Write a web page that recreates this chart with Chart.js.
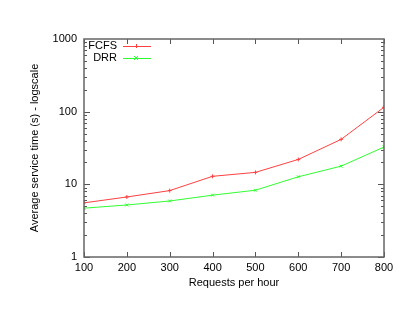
<!DOCTYPE html>
<html>
<head>
<meta charset="utf-8">
<script src="https://cdn.jsdelivr.net/npm/chart.js@4/dist/chart.umd.min.js"></script>
<style>
  html, body { margin: 0; padding: 0; background: #fff; }
  #wrap { width: 415px; height: 321px; }
</style>
</head>
<body>
<div id="wrap"><canvas id="chart"></canvas></div>
<script>
// data
const requests = [100, 200, 300, 400, 500, 600, 700, 800];
const fcfsTimes = [5.56, 6.7, 8.2, 12.9, 14.6, 22.0, 41.6, 115];
const drrTimes = [4.7, 5.2, 5.9, 7.1, 8.3, 12.7, 17.8, 32.6];
const seriesNames = ['FCFS', 'DRR'];
const yDecades = [1, 10, 100, 1000];

const FONT = 'Liberation Sans, Arial, sans-serif';

function points(ys) {
  return requests.map((x, i) => ({ x: x, y: ys[i] }));
}

// gnuplot-ish frame: border, inward ticks on all sides, legend inside
const framePlugin = {
  id: 'frame',
  afterDatasetsDraw(chart) {
    const ctx = chart.ctx;
    const a = chart.chartArea;
    const xs = chart.scales.x;
    const ys = chart.scales.y;
    ctx.save();
    ctx.strokeStyle = '#555';
    ctx.lineWidth = 1;

    // x ticks (bottom + mirrored top)
    requests.forEach(v => {
      const px = Math.round(xs.getPixelForValue(v)) + 0.5;
      ctx.beginPath();
      ctx.moveTo(px, a.bottom); ctx.lineTo(px, a.bottom - 5);
      ctx.moveTo(px, a.top); ctx.lineTo(px, a.top + 5);
      ctx.stroke();
    });

    // y log ticks, major at decades, minor at 2..9
    for (let d = 1; d < 1000; d *= 10) {
      for (let m = 1; m <= 9; m++) {
        const v = d * m;
        const len = m === 1 ? 6 : 3;
        const py = Math.round(ys.getPixelForValue(v)) + 0.5;
        ctx.beginPath();
        ctx.moveTo(a.left, py); ctx.lineTo(a.left + len, py);
        ctx.moveTo(a.right, py); ctx.lineTo(a.right - len, py);
        ctx.stroke();
      }
    }

    // border
    ctx.lineWidth = 1.5;
    ctx.strokeStyle = '#666';
    ctx.strokeRect(a.left, a.top, a.right - a.left, a.bottom - a.top);

    // legend
    ctx.font = '11px ' + FONT;
    ctx.textAlign = 'right';
    ctx.textBaseline = 'middle';
    chart.data.datasets.forEach((ds, i) => {
      const ly = a.top + 7 + i * 12;
      ctx.fillStyle = '#000';
      ctx.fillText(ds.label, a.left + 33, ly);
      ctx.strokeStyle = ds.borderColor;
      ctx.lineWidth = 1;
      ctx.beginPath();
      ctx.moveTo(a.left + 39, ly + 0.5);
      ctx.lineTo(a.left + 67, ly + 0.5);
      ctx.stroke();
      const cx = a.left + 52, r = 2;
      ctx.beginPath();
      if (i === 0) {
        ctx.moveTo(cx - r, ly + 0.5); ctx.lineTo(cx + r, ly + 0.5);
        ctx.moveTo(cx + 0.5, ly - r); ctx.lineTo(cx + 0.5, ly + r);
      } else {
        ctx.moveTo(cx - r, ly - r); ctx.lineTo(cx + r, ly + r);
        ctx.moveTo(cx - r, ly + r); ctx.lineTo(cx + r, ly - r);
      }
      ctx.stroke();
    });
    ctx.restore();
  }
};

new Chart(document.getElementById('chart'), {
  type: 'line',
  data: {
    datasets: [{
      label: seriesNames[0],
      data: points(fcfsTimes),
      borderColor: '#ff4040',
      backgroundColor: '#ff4040',
      borderWidth: 1,
      pointStyle: 'cross',
      pointRadius: 2,
      pointBorderWidth: 1,
      tension: 0
    }, {
      label: seriesNames[1],
      data: points(drrTimes),
      borderColor: '#30ff30',
      backgroundColor: '#30ff30',
      borderWidth: 1,
      pointStyle: 'crossRot',
      pointRadius: 2,
      pointBorderWidth: 1,
      tension: 0
    }]
  },
  options: {
    responsive: true,
    maintainAspectRatio: false,
    animation: false,
    layout: { padding: { left: 0, right: 31, top: 39, bottom: 0 } },
    plugins: {
      legend: { display: false },
      tooltip: { enabled: false }
    },
    scales: {
      x: {
        type: 'linear',
        min: 100,
        max: 800,
        grid: { display: false, drawTicks: false, tickLength: 0 },
        border: { display: false },
        ticks: {
          stepSize: 100,
          color: '#000',
          font: { family: FONT, size: 11 },
          padding: 4,
          maxRotation: 0
        },
        title: {
          display: true,
          text: 'Requests per hour',
          color: '#000',
          font: { family: FONT, size: 11 },
          padding: { top: 2, bottom: 31 }
        },
        afterFit(scale) { scale.height = 64; }
      },
      y: {
        type: 'logarithmic',
        min: 1,
        max: 1000,
        grid: { display: false, drawTicks: false, tickLength: 0 },
        border: { display: false },
        afterBuildTicks(scale) {
          scale.ticks = yDecades.map(v => ({ value: v }));
        },
        ticks: {
          color: '#000',
          font: { family: FONT, size: 11 },
          padding: 7,
          callback: v => String(v)
        },
        title: {
          display: true,
          text: 'Average service time (s) - logscale',
          color: '#000',
          font: { family: FONT, size: 11 },
          padding: { top: 28, bottom: 0 }
        },
        afterFit(scale) { scale.width = 84; }
      }
    }
  },
  plugins: [framePlugin]
});
</script>
</body>
</html>
